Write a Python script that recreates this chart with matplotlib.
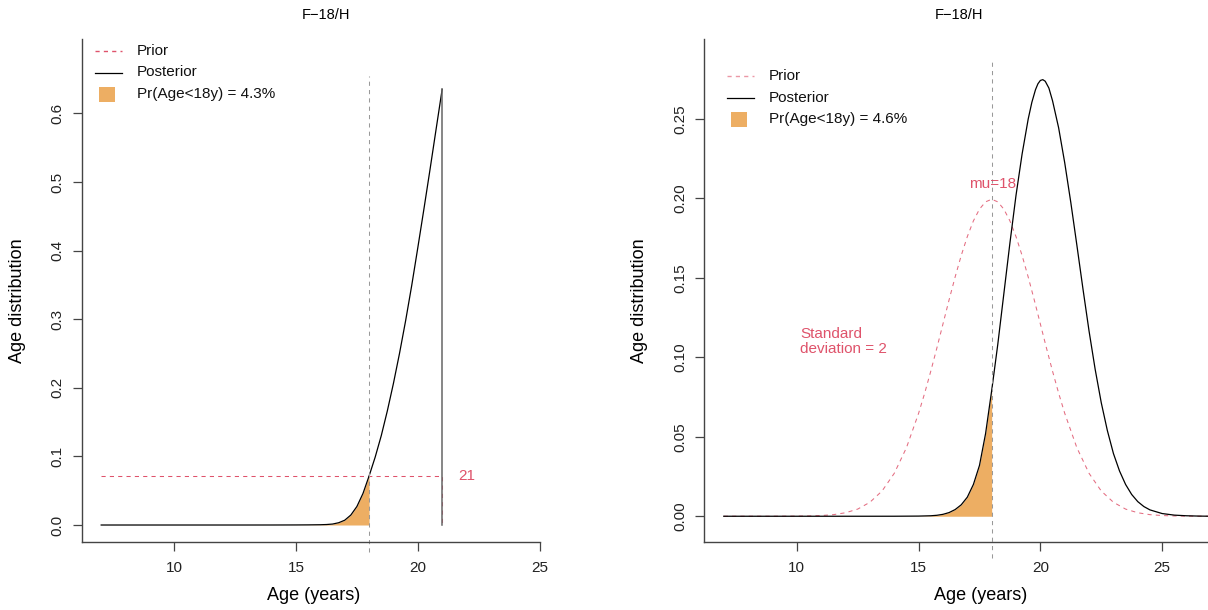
import matplotlib
matplotlib.use('Agg')
import matplotlib.pyplot as plt
from matplotlib.lines import Line2D
from matplotlib.patches import Rectangle

plt.rcParams['font.family'] = ['Liberation Sans', 'DejaVu Sans']

# ---- data ----
title = "F\u221218/H"
x_ticks = [10, 15, 20, 25]
cut_age = 18

# left panel: uniform prior 7..21, posterior truncated at 21
left_prior_age = [7, 21, 21]
left_prior_den = [0.0714, 0.0714, 0.0]
left_post_age = [7, 10, 13, 14, 15, 15.5, 16, 16.25, 16.5, 16.75, 17, 17.25, 17.5, 17.75,
                 18, 18.25, 18.5, 18.75, 19, 19.25, 19.5, 19.75, 20, 20.25, 20.5, 20.75, 21]
left_post_den = [0, 0, 0, 0.00002, 0.0001, 0.0002, 0.0004, 0.0007, 0.0014, 0.0033, 0.007, 0.0145, 0.027, 0.046,
                 0.0714, 0.0989, 0.1302, 0.1664, 0.2064, 0.2502, 0.2977, 0.349, 0.404, 0.4602, 0.5177, 0.5765, 0.635]
left_pr = "Pr(Age<18y) = 4.3%"
left_yticks = [0.0, 0.1, 0.2, 0.3, 0.4, 0.5, 0.6]

# right panel: normal prior mu=18 sd=2
right_prior_age = [7, 8, 9, 10, 10.5, 11, 11.5, 12, 12.5, 13, 13.5, 14, 14.5, 15, 15.25, 15.5, 15.75,
                   16, 16.25, 16.5, 16.75, 17, 17.25, 17.5, 17.75, 18, 18.25, 18.5, 18.75, 19, 19.25,
                   19.5, 19.75, 20, 20.25, 20.5, 20.75, 21, 21.5, 22, 22.5, 23, 23.5, 24, 24.5, 25,
                   25.5, 26, 27, 28]
right_prior_den = [0, 0, 0, 0.00007, 0.00018, 0.00044, 0.0010, 0.0022, 0.0045, 0.0088, 0.0159, 0.0270,
                   0.0431, 0.0648, 0.0775, 0.0913, 0.1059, 0.1210, 0.1361, 0.1506, 0.1641, 0.1760, 0.1859,
                   0.1933, 0.1979, 0.1995, 0.1979, 0.1933, 0.1859, 0.1760, 0.1641, 0.1506, 0.1361, 0.1210,
                   0.1059, 0.0913, 0.0775, 0.0648, 0.0431, 0.0270, 0.0159, 0.0088, 0.0045, 0.0022, 0.0010,
                   0.00044, 0.00018, 0.00007, 0, 0]
right_post_age = [7, 10, 13, 14, 15, 15.5, 15.75, 16, 16.25, 16.5, 16.75, 17, 17.25, 17.5, 17.75, 18,
                  18.25, 18.5, 18.75, 19, 19.25, 19.5, 19.65, 19.8, 19.9, 20.0, 20.1, 20.2, 20.35, 20.5,
                  20.75, 21, 21.25, 21.5, 21.75, 22, 22.25, 22.5, 22.75, 23, 23.25, 23.5, 23.75, 24,
                  24.25, 24.5, 25, 25.5, 26, 26.5, 27, 28]
right_post_den = [0, 0, 0, 0.00001, 0.0001, 0.0003, 0.0006, 0.0012, 0.0023, 0.0042, 0.0072, 0.012, 0.020,
                  0.032, 0.052, 0.079, 0.108, 0.140, 0.172, 0.202, 0.228, 0.250, 0.2605, 0.2685, 0.2722,
                  0.2743, 0.2748, 0.2738, 0.2695, 0.2615, 0.2445, 0.2225, 0.1975, 0.1705, 0.1430, 0.1165,
                  0.0925, 0.0715, 0.0540, 0.0395, 0.0285, 0.0200, 0.0137, 0.0092, 0.0061, 0.0040,
                  0.0017, 0.0007, 0.0003, 0.0001, 0, 0]
right_pr = "Pr(Age<18y) = 4.6%"
right_yticks = [0.00, 0.05, 0.10, 0.15, 0.20, 0.25]

PINK = '#DF536B'
ORANGE = '#EDAE63'
AXC = '#444444'
W, H = 1208, 610

fig = plt.figure(figsize=(W / 100, H / 100), dpi=100)


def fx(px):
    return px / W


def fy(py):
    return 1 - py / H


def make_axes(left_px, right_px, xlim, ylim, yticks, fmt, xright_bound):
    ax = fig.add_axes([fx(left_px), fy(542.3), (right_px - left_px) / W, (542.3 - 39.3) / H])
    ax.set_xlim(*xlim)
    ax.set_ylim(*ylim)
    for s in ['top', 'right']:
        ax.spines[s].set_visible(False)
    for s in ['left', 'bottom']:
        ax.spines[s].set_color(AXC)
        ax.spines[s].set_linewidth(1.0)
    ax.spines['bottom'].set_bounds(xlim[0], xright_bound)
    ax.set_xticks(x_ticks)
    ax.set_xticklabels([str(t) for t in x_ticks])
    ax.set_yticks(yticks)
    ax.set_yticklabels([fmt.format(t) for t in yticks], rotation=90, va='center')
    ax.tick_params(length=6.5, width=0.9, color=AXC, labelsize=11, labelcolor='#222222')
    ax.tick_params(axis='x', pad=7)
    ax.tick_params(axis='y', pad=6)
    return ax


def legend(x0, y0, pr_text, prior_alpha):
    # rows spaced 22 px, sample line 27 px wide
    fig.add_artist(Line2D([fx(x0), fx(x0 + 27)], [fy(y0), fy(y0)], color=PINK, lw=1.0,
                          ls=(0, (3, 3)), alpha=prior_alpha))
    fig.add_artist(Line2D([fx(x0), fx(x0 + 27)], [fy(y0 + 21.5), fy(y0 + 21.5)], color='black', lw=0.9))
    fig.add_artist(Rectangle((fx(x0 + 3.5), fy(y0 + 51)), 16 / W, 15 / H, color=ORANGE, lw=0))
    tx = x0 + 42
    for i, t in enumerate(['Prior', 'Posterior', pr_text]):
        fig.text(fx(tx), fy(y0 + 21.5 * i), t, fontsize=11, ha='left', va='center', color='#111111')


# ---- left panel ----
axl = make_axes(81.7, 570, (6.2, 26.25), (-0.0252, 0.708), left_yticks, '{:.1f}', 25)
axl.plot(left_prior_age, left_prior_den, color=PINK, lw=0.75, ls=(0, (4, 4)))
axl.fill_between([a for a in left_post_age if a <= cut_age],
                 [d for a, d in zip(left_post_age, left_post_den) if a <= cut_age],
                 color=ORANGE, lw=0)
axl.plot(left_post_age, left_post_den, color='black', lw=0.9)
axl.plot([left_post_age[-1]] * 2, [left_post_den[-1], 0], color='#666666', lw=1.1)
axl.plot([cut_age, cut_age], [-0.04, 0.654], color='#999999', lw=0.75, ls=(0, (4, 4)), clip_on=False)
axl.text(22, 0.0714, "21", color=PINK, fontsize=11, ha='center', va='center')

# ---- right panel ----
axr = make_axes(704.3, 1214, (6.2, 27.13), (-0.0164, 0.3002), right_yticks, '{:.2f}', 27.13)
axr.plot(right_prior_age, right_prior_den, color=PINK, lw=0.75, ls=(0, (4, 4)), alpha=0.85)
axr.fill_between([a for a in right_post_age if a <= cut_age],
                 [d for a, d in zip(right_post_age, right_post_den) if a <= cut_age],
                 color=ORANGE, lw=0)
axr.plot(right_post_age, right_post_den, color='black', lw=0.9)
axr.plot([cut_age, cut_age], [-0.026, 0.286], color='#999999', lw=0.75, ls=(0, (4, 4)), clip_on=False)
axr.text(18.05, 0.209, "mu=18", color=PINK, fontsize=11, ha='center', va='center')
axr.text(10.15, 0.110, "Standard\ndeviation = 2", color=PINK, fontsize=11, ha='left', va='center',
         linespacing=1.1)

# ---- titles, axis labels, legends ----
for cx in [326, 959]:
    fig.text(fx(cx), fy(15), title, fontsize=10.5, ha='center', va='center')
for cx in [314, 981]:
    fig.text(fx(cx), fy(595), "Age (years)", fontsize=13, ha='center', va='center')
for cx in [18, 639]:
    fig.text(fx(cx), fy(301), "Age distribution", fontsize=13, ha='center', va='center', rotation=90)

legend(95, 51, left_pr, 1.0)
legend(727, 76, right_pr, 0.6)

fig.savefig('out.png', dpi=100)
